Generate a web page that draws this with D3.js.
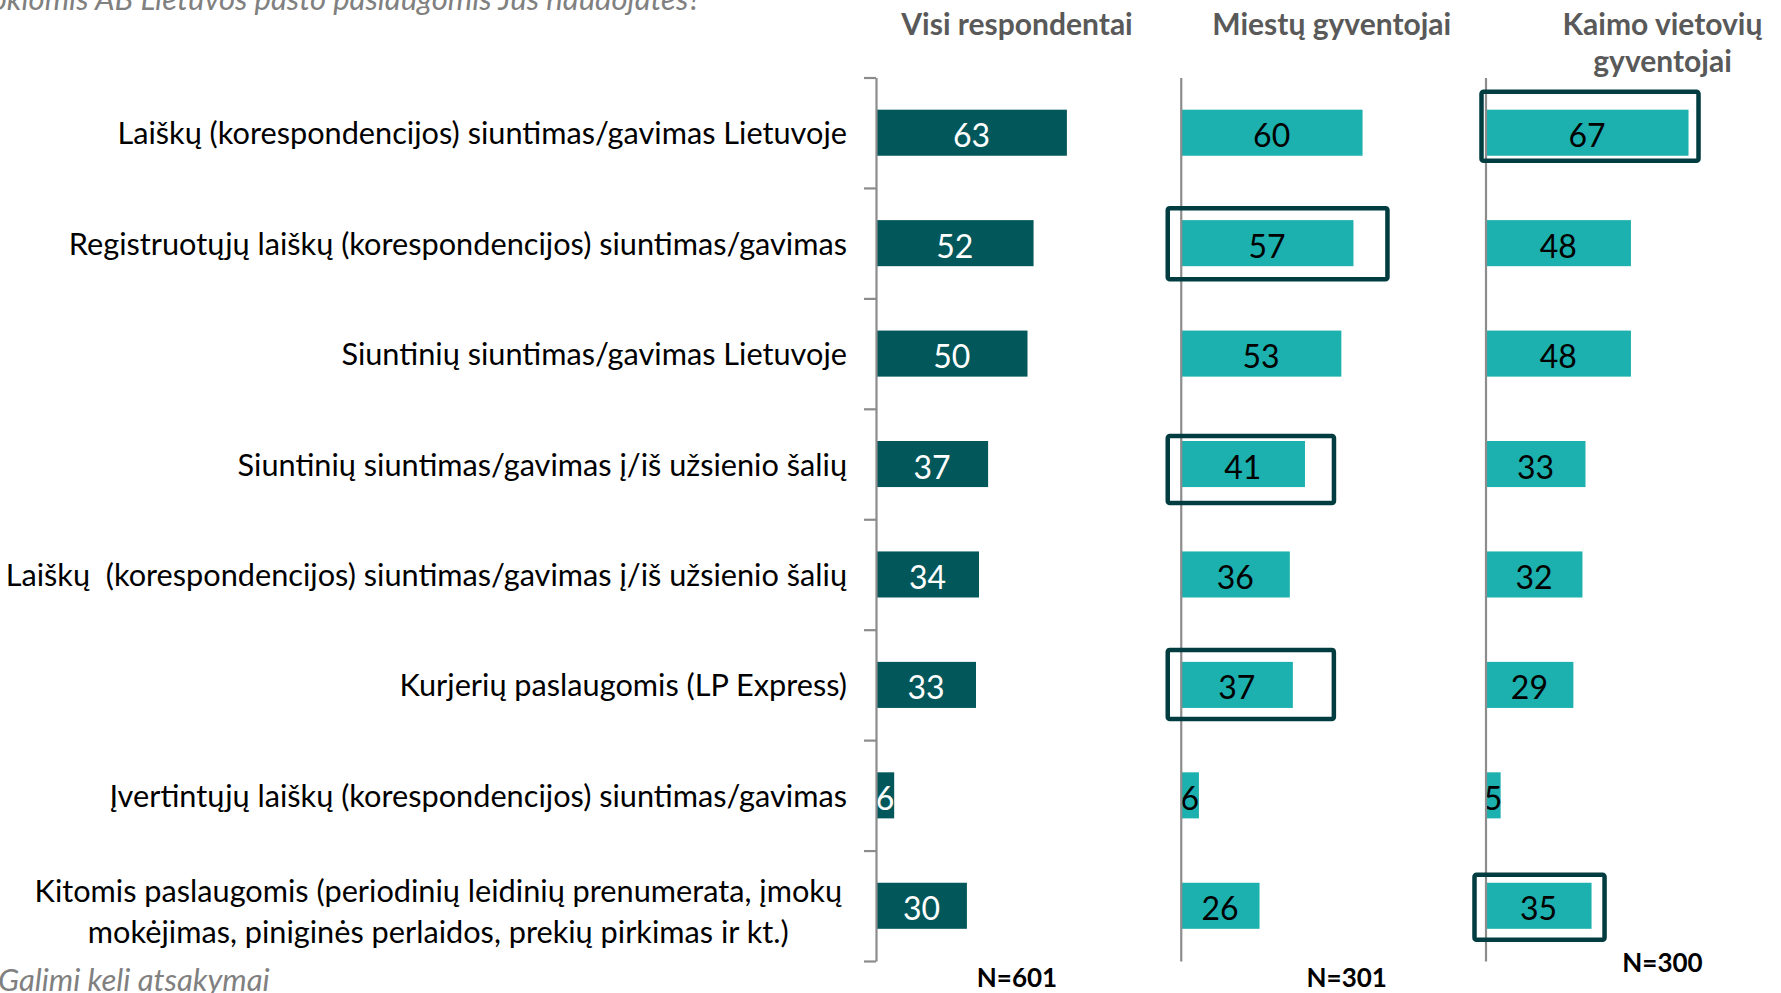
<!DOCTYPE html>
<html>
<head>
<meta charset="utf-8">
<script src="https://cdn.jsdelivr.net/npm/d3@7"></script>
<style>
  html, body { margin: 0; padding: 0; background: #fff; overflow: hidden; }
  svg { display: block; }
  text { font-family: Lato, "Open Sans", sans-serif; }
</style>
</head>
<body>
<svg id="chart" width="1781" height="993"></svg>
<script>
// ---------------- DATA ----------------
const categories = [
  ["Laiškų (korespondencijos) siuntimas/gavimas Lietuvoje"],
  ["Registruotųjų laiškų (korespondencijos) siuntimas/gavimas"],
  ["Siuntinių siuntimas/gavimas Lietuvoje"],
  ["Siuntinių siuntimas/gavimas į/iš užsienio šalių"],
  ["Laiškų  (korespondencijos) siuntimas/gavimas į/iš užsienio šalių"],
  ["Kurjerių paslaugomis (LP Express)"],
  ["Įvertintųjų laiškų (korespondencijos) siuntimas/gavimas"],
  ["Kitomis paslaugomis (periodinių leidinių prenumerata, įmokų", "mokėjimas, piniginės perlaidos, prekių pirkimas ir kt.)"]
];
const panelTitles = [["Visi respondentai"], ["Miestų gyventojai"], ["Kaimo vietovių", "gyventojai"]];
const valuesAll   = [63, 52, 50, 37, 34, 33, 6, 30];
const valuesCity  = [60, 57, 53, 41, 36, 37, 6, 26];
const valuesRural = [67, 48, 48, 33, 32, 29, 5, 35];
const sampleSizes = ["N=601", "N=301", "N=300"];
// highlighted cells: panel index, category index
const highlights = [
  { panel: 1, cat: 1 },
  { panel: 1, cat: 3 },
  { panel: 1, cat: 5 },
  { panel: 2, cat: 0 },
  { panel: 2, cat: 7 }
];
const questionText = "Kokiomis AB Lietuvos pašto paslaugomis Jūs naudojatės?";
const footnoteText = "Galimi keli atsakymai";

// ---------------- STYLE / LAYOUT ----------------
const seriesValues = [valuesAll, valuesCity, valuesRural];
const barColors = ["#02575B", "#1CB1AE", "#1CB1AE"];
const labelColors = ["#ffffff", "#000000", "#000000"];
const boxPad = [
  { l: 13, r: 34, t: 12, b: 13 },
  { l: 13, r: 29, t: 5,  b: 16 },
  { l: 13, r: 41, t: 12, b: 11 },
  { l: 4,  r: 10, t: 18, b: 5 },
  { l: 11, r: 13, t: 8,  b: 11 }
];
const headerOffset = [141, 151, 177];
const nOffset = [ {dx: 141, y: 987}, {dx: 166, y: 987}, {dx: 177, y: 972} ];

const svg = d3.select("#chart");
const plotTop = 77.5, plotBottom = 961;
const panelScale = d3.scaleLinear().domain([0, 2]).range([876, 1485.5]);
const x = d3.scaleLinear().domain([0, 100]).range([0, 303]);
const catIdx = d3.range(categories.length);
const y = d3.scaleBand().domain(catIdx).range([plotTop, plotBottom]).paddingInner(0.583).paddingOuter(0.2915);

// question title (cut at top-left)
svg.append("text")
  .attr("x", 701).attr("y", 10)
  .attr("text-anchor", "end")
  .attr("font-size", 31).attr("font-style", "italic")
  .attr("fill", "#808080")
  .text(questionText);

// footnote
svg.append("text")
  .attr("x", -2).attr("y", 991)
  .attr("font-size", 31).attr("font-style", "italic")
  .attr("fill", "#808080")
  .text(footnoteText);

// category labels
const labelRight = 847;
const lineGap = 41;
const labelSize = 30.7;
catIdx.forEach(i => {
  const lines = categories[i];
  const cy = y(i) + y.bandwidth() / 2;
  const g = svg.append("g");
  if (lines.length === 1) {
    g.append("text")
      .attr("x", labelRight).attr("y", cy)
      .attr("text-anchor", "end").attr("dominant-baseline", "central")
      .attr("font-size", labelSize).attr("fill", "#000")
      .attr("xml:space", "preserve")
      .text(lines[0]);
  } else {
    // centered lines, block right-aligned
    const t = g.append("text").attr("font-size", labelSize).attr("fill", "#000").attr("text-anchor", "middle");
    lines.forEach((ln, k) => {
      t.append("tspan")
        .attr("y", cy + 5 + (k - (lines.length - 1) / 2) * lineGap)
        .attr("dominant-baseline", "central")
        .text(ln);
    });
    const widths = [];
    t.selectAll("tspan").each(function() { widths.push(this.getComputedTextLength()); });
    const maxW = d3.max(widths);
    t.selectAll("tspan").attr("x", labelRight - 5 - maxW / 2);
  }
});

// panels
seriesValues.forEach((vals, p) => {
  const x0 = panelScale(p);
  const g = svg.append("g").attr("transform", `translate(${x0},0)`);

  // header
  const ht = g.append("text")
    .attr("text-anchor", "middle")
    .attr("font-size", 30).attr("font-weight", "bold").attr("fill", "#595959");
  panelTitles[p].forEach((ln, k) => {
    ht.append("tspan").attr("x", headerOffset[p]).attr("y", 23 + k * 37)
      .attr("dominant-baseline", "central").text(ln);
  });

  // bars
  g.selectAll("rect.bar").data(vals).join("rect")
    .attr("class", "bar")
    .attr("x", 0)
    .attr("y", (d, i) => y(i))
    .attr("width", d => x(d))
    .attr("height", y.bandwidth())
    .attr("fill", barColors[p]);

  // value labels
  g.selectAll("text.val").data(vals).join("text")
    .attr("class", "val")
    .attr("x", d => x(d) / 2)
    .attr("y", (d, i) => y(i) + y.bandwidth() / 2 + 2)
    .attr("text-anchor", "middle").attr("dominant-baseline", "central")
    .attr("font-size", 32)
    .attr("fill", labelColors[p])
    .text(d => d);

  // axis line
  const axis = d3.axisLeft(d3.scaleLinear().domain([0, categories.length]).range([plotTop, plotBottom]))
    .tickValues(p === 0 ? d3.range(categories.length + 1) : [])
    .tickSize(p === 0 ? 12 : 0)
    .tickSizeOuter(0)
    .tickFormat("");
  const ag = g.append("g").call(axis);
  ag.selectAll("path, line").attr("stroke", "#8C8C8C").attr("stroke-width", 2.2);

  // N label
  g.append("text")
    .attr("x", nOffset[p].dx).attr("y", nOffset[p].y)
    .attr("text-anchor", "middle")
    .attr("font-size", 26).attr("font-weight", "bold").attr("fill", "#000")
    .text(sampleSizes[p]);
});

// highlight boxes
highlights.forEach((h, k) => {
  const v = seriesValues[h.panel][h.cat];
  const pad = boxPad[k];
  const x0 = panelScale(h.panel);
  svg.append("rect")
    .attr("x", x0 - pad.l)
    .attr("y", y(h.cat) - pad.t)
    .attr("width", x(v) + pad.l + pad.r)
    .attr("height", y.bandwidth() + pad.t + pad.b)
    .attr("rx", 2)
    .attr("fill", "none")
    .attr("stroke", "#013D40")
    .attr("stroke-width", 4.5);
});
</script>
</body>
</html>
